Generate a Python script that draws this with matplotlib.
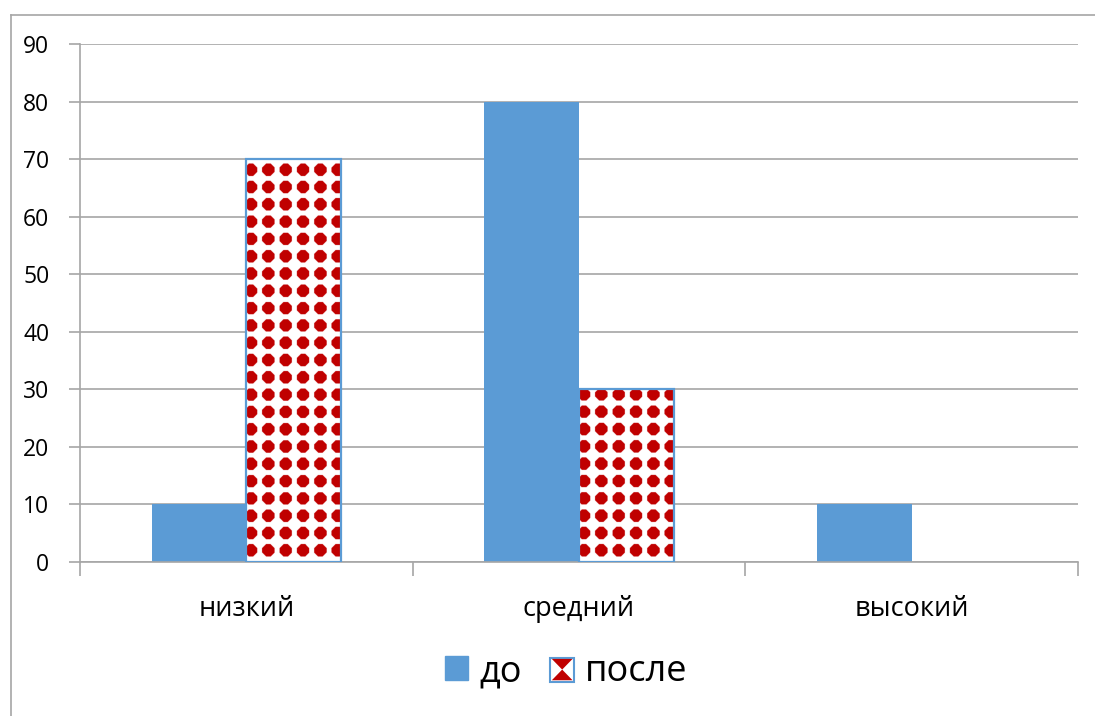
import numpy as np
import matplotlib
matplotlib.use('Agg')
import matplotlib.pyplot as plt
from matplotlib.lines import Line2D
from matplotlib.patches import Rectangle, Polygon
from matplotlib.legend_handler import HandlerBase

plt.rcParams['font.family'] = ['Open Sans', 'DejaVu Sans']

categories = ['низкий', 'средний', 'высокий']
before = [10, 80, 10]
after = [70, 30, 0]
series_names = ['до', 'после']
y_ticks = [0, 10, 20, 30, 40, 50, 60, 70, 80, 90]

BLUE = '#5B9BD5'
RED = '#C00000'
GRID = '#A6A6A6'

W, H, DPI = 1095, 716, 100
fig = plt.figure(figsize=(W / DPI, H / DPI), dpi=DPI)
ax = fig.add_axes([80 / W, 1 - 562 / H, (1078 - 80) / W, (562 - 44) / H])

x = np.arange(len(categories))
bw = 0.285
ax.set_xlim(-0.5, len(categories) - 0.5)
ax.set_ylim(0, 90)

ax.bar(x - bw / 2, before, bw, color=BLUE, zorder=2)


def dot_tile(nx, ny, ss, period=17.3, off_x=5.0, off_y=11.7):
    # red octagonal dots on a white square lattice, supersampled by ss
    px = (np.arange(nx) + 0.5) / ss
    py = (np.arange(ny) + 0.5) / ss
    u = np.mod(px - off_x + period / 2, period) - period / 2
    v = np.mod(py - off_y + period / 2, period) - period / 2
    U, V = np.meshgrid(np.abs(u), np.abs(v))
    mask = (U + V <= 8.4) & (np.maximum(U, V) <= 6.2)
    img = np.ones((ny, nx, 3))
    img[mask] = matplotlib.colors.to_rgb(RED)
    return img


ss = 4
for xi, h in zip(x, after):
    if h <= 0:
        continue
    x0, x1 = xi, xi + bw
    (p0x, p0y), (p1x, p1y) = ax.transData.transform([[x0, 0], [x1, h]])
    nx = int(round((p1x - p0x) * ss))
    ny = int(round((p1y - p0y) * ss))
    ax.imshow(dot_tile(nx, ny, ss), extent=(x0, x1, 0, h), origin='lower',
              aspect='auto', interpolation='antialiased', zorder=2.2)
    ax.add_patch(Rectangle((x0, 0), bw, h, facecolor='none', edgecolor=BLUE,
                           lw=1.6, zorder=3))

ax.set_xlim(-0.5, len(categories) - 0.5)
ax.set_ylim(0, 90)

# axes styling
for side in ['top', 'right']:
    ax.spines[side].set_visible(False)
for side in ['left', 'bottom']:
    ax.spines[side].set_color(GRID)
    ax.spines[side].set_linewidth(1.2)

ax.set_yticks(y_ticks)
ax.yaxis.grid(True, color=GRID, lw=1.2)
ax.set_axisbelow(True)
ax.tick_params(axis='y', length=8, width=1.2, color=GRID, pad=14, labelsize=16.5)

ax.set_xticks(x)
ax.set_xticklabels(categories, fontsize=19.5)
ax.set_xticks(np.arange(len(categories) + 1) - 0.5, minor=True)
ax.tick_params(axis='x', which='major', length=0, pad=24)
ax.tick_params(axis='x', which='minor', length=10, width=1.2, color=GRID)


class DotHandler(HandlerBase):
    def create_artists(self, legend, orig_handle, xd, yd, width, height, fontsize, trans):
        box = Rectangle((xd, yd), width, height, facecolor='white',
                        edgecolor=BLUE, lw=1.5, transform=trans)
        top = Polygon([(xd + 1, yd + height - 1), (xd + width - 1, yd + height - 1),
                       (xd + width / 2, yd + height / 2)], closed=True,
                      facecolor=RED, edgecolor='none', transform=trans)
        bot = Polygon([(xd + 1, yd + 1), (xd + width - 1, yd + 1),
                       (xd + width / 2, yd + height / 2)], closed=True,
                      facecolor=RED, edgecolor='none', transform=trans)
        return [box, top, bot]


h_before = Rectangle((0, 0), 1, 1, color=BLUE)
h_after = Rectangle((0, 0), 1, 1, facecolor='white')
fig.legend([h_before, h_after], series_names, loc='center',
           bbox_to_anchor=(566 / W, 1 - 672 / H), ncol=2, frameon=False,
           fontsize=26, handlelength=0.65, handleheight=0.65,
           handletextpad=0.3, columnspacing=0.8,
           handler_map={h_after: DotHandler()})

# outer chart border
fig.add_artist(Line2D([11 / W, 1], [1 - 15 / H, 1 - 15 / H],
                      transform=fig.transFigure, color=GRID, lw=1.2))
fig.add_artist(Line2D([11 / W, 11 / W], [0, 1 - 15 / H],
                      transform=fig.transFigure, color=GRID, lw=1.2))

fig.savefig('out.png', dpi=DPI)
